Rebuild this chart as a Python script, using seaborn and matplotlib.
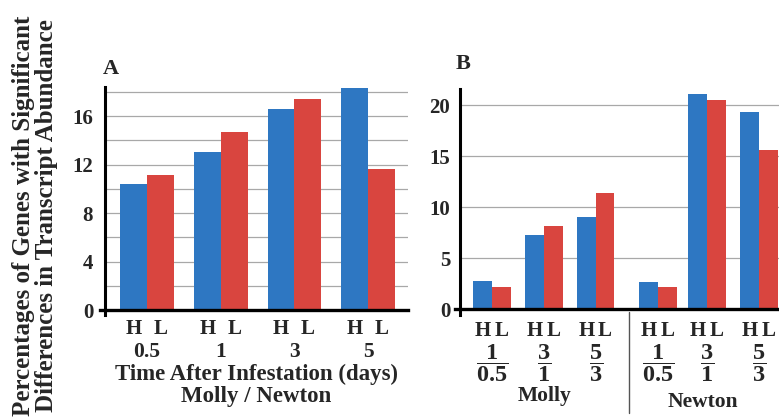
import matplotlib
matplotlib.use("Agg")
import matplotlib.pyplot as plt
import pandas as pd
import seaborn as sns
from matplotlib.lines import Line2D

# ---------------- data ----------------
levels = ["H", "L"]

times_a = ["0.5", "1", "3", "5"]
high_a = [10.4, 13.05, 16.6, 18.35]
low_a = [11.1, 14.7, 17.45, 11.6]

cultivars_b = ["Molly", "Newton"]
ratios_b = ["1/0.5", "3/1", "5/3"]
ratio_labels_b = [r"$\dfrac{1}{0.5}$", r"$\dfrac{3}{1}$", r"$\dfrac{5}{3}$"]
molly_high = [2.75, 7.25, 9.05]
molly_low = [2.15, 8.2, 11.45]
newton_high = [2.65, 21.1, 19.35]
newton_low = [2.15, 20.55, 15.6]

ylabel_text = "Percentages of Genes with Significant\nDifferences in Transcript Abundance"
xlabel_a = "Time After Infestation (days)\nMolly / Newton"

# ---------------- layout / style ----------------
BLUE = "#2E77C2"
RED = "#D9453F"
GRID = "#A8A8A8"
slot_pos = [0, 1, 2, 3.2, 4.15, 5.15]

sns.set_style("white")
plt.rcParams["font.family"] = ["Liberation Serif", "DejaVu Serif"]
plt.rcParams["font.weight"] = "bold"
plt.rcParams["mathtext.fontset"] = "custom"
plt.rcParams["mathtext.rm"] = "Liberation Serif:bold"
plt.rcParams["mathtext.bf"] = "Liberation Serif:bold"
plt.rcParams["mathtext.default"] = "rm"

W, H = 779, 420
fig = plt.figure(figsize=(W / 100, H / 100), dpi=100)


def px_axes(l, t, r, b):
    return fig.add_axes([l / W, 1 - b / H, (r - l) / W, (b - t) / H])


axA = px_axes(105, 87, 408, 310)
axB = px_axes(460, 89, 792, 309.3)

bar_kw = dict(saturation=1, errorbar=None, legend=False, linewidth=0,
              edgecolor="none", zorder=2)

# ---- panel A ----
df_a = pd.DataFrame({
    "time": times_a * 2,
    "level": ["H"] * len(times_a) + ["L"] * len(times_a),
    "value": high_a + low_a,
})
sns.barplot(data=df_a, x="time", y="value", hue="level", order=times_a,
            hue_order=levels, palette={"H": BLUE, "L": RED}, width=0.73,
            ax=axA, **bar_kw)

# ---- panel B ----
rows = []
for ci, (cult, hi, lo) in enumerate([("Molly", molly_high, molly_low),
                                      ("Newton", newton_high, newton_low)]):
    for ri, r in enumerate(ratios_b):
        rows.append((cult, r, "H", hi[ri], slot_pos[ci * 3 + ri]))
        rows.append((cult, r, "L", lo[ri], slot_pos[ci * 3 + ri]))
df_b = pd.DataFrame(rows, columns=["cultivar", "ratio", "level", "value", "pos"])
sns.barplot(data=df_b, x="pos", y="value", hue="level", hue_order=levels,
            palette={"H": BLUE, "L": RED}, native_scale=True, width=0.76,
            ax=axB, **bar_kw)


def style_axis(ax, ylim, major, minor_grid, xlim, pad):
    ax.set_xlim(*xlim)
    ax.set_ylim(*ylim)
    ax.set_yticks(major)
    ax.set_yticklabels([str(v) for v in major])
    ax.set_yticks(minor_grid, minor=True)
    ax.grid(False)
    ax.yaxis.grid(True, which="both", color=GRID, linewidth=0.9)
    ax.set_axisbelow(True)
    for s in ["top", "right"]:
        ax.spines[s].set_visible(False)
    ax.spines["left"].set_linewidth(2.2)
    ax.spines["bottom"].set_linewidth(2.4)
    ax.spines["left"].set_color("black")
    ax.spines["bottom"].set_color("black")
    ax.spines["left"].set_bounds(-0.45 * (ylim[1] / 18.4), ylim[1])
    ax.set_ylabel("")
    ax.set_xlabel("")
    ax.tick_params(axis="y", which="both", length=3.5, width=0.8,
                   color="#444444", direction="out", labelsize=15, pad=pad)
    ax.set_facecolor("white")


style_axis(axA, (0, 18.4), [0, 4, 8, 12, 16], [2, 6, 10, 14, 18], (-0.57, 3.54), 5)
style_axis(axB, (0, 21.6), [0, 5, 10, 15, 20], [], (-0.62, 5.79), 3.5)
axA.spines["bottom"].set_bounds(-0.64, 3.54)
axB.spines["bottom"].set_bounds(-0.72, 5.79)


def bar_labels(ax):
    pos, labs = [], []
    for lev, cont in zip(levels, ax.containers):
        for p in cont.patches:
            pos.append(p.get_x() + p.get_width() / 2)
            labs.append(lev)
    return pos, labs


# A x ticks
p, l = bar_labels(axA)
axA.set_xticks(p, l, minor=True)
axA.set_xticks(range(len(times_a)), times_a)
axA.tick_params(axis="x", which="minor", length=0, labelsize=15, pad=6.5)
axA.tick_params(axis="x", which="major", length=0, labelsize=15.5, pad=23)
axA.set_xlabel(xlabel_a, fontsize=16.5, fontweight="bold", labelpad=1,
               linespacing=1.1)

# B x ticks
p, l = bar_labels(axB)
axB.set_xticks(p, l, minor=True)
axB.set_xticks(slot_pos, ratio_labels_b * 2)
axB.tick_params(axis="x", which="minor", length=0, labelsize=15, pad=8.5)
axB.tick_params(axis="x", which="major", length=0, labelsize=17.5, pad=23.5)

tr = axB.get_xaxis_transform()
axB.text((slot_pos[0] + slot_pos[2]) / 2 + 0.02, -0.395, cultivars_b[0],
         transform=tr, ha="center", va="center", fontsize=15.5, fontweight="bold")
axB.text((slot_pos[3] + slot_pos[5]) / 2 - 0.1, -0.42, cultivars_b[1],
         transform=tr, ha="center", va="center", fontsize=15.5, fontweight="bold")
sep_x = (slot_pos[2] + slot_pos[3]) / 2 + 0.05
axB.add_line(Line2D([sep_x, sep_x], [-0.01, -0.47], transform=tr,
                    color="#555555", linewidth=1.0, clip_on=False))

# panel letters
fig.text(103 / W, 1 - 69 / H, "A", fontsize=16, fontweight="bold",
         ha="left", va="center")
fig.text(456 / W, 1 - 64 / H, "B", fontsize=16, fontweight="bold",
         ha="left", va="center")

# shared y label
fig.text(35 / W, 1 - 216 / H, ylabel_text, rotation=90, fontsize=18,
         fontweight="bold", ha="center", va="center", linespacing=1.0,
         multialignment="center")

fig.savefig("out.png", dpi=100, facecolor="white")
